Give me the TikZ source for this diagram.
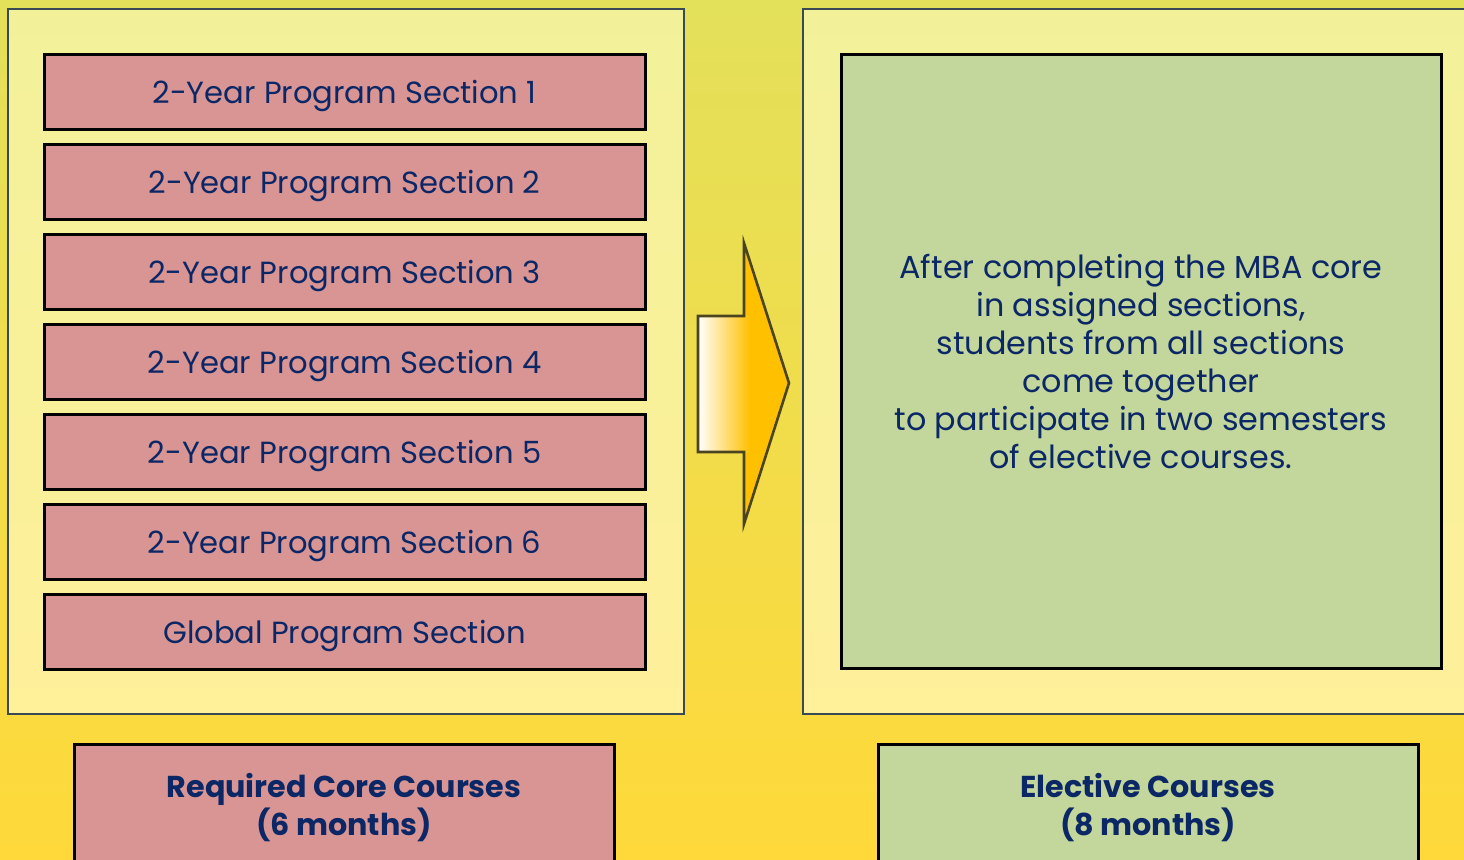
\documentclass[tikz,border=0pt]{standalone}
\usepackage{fontspec}
\setmainfont{Poppins}
\usetikzlibrary{shadings}
\definecolor{navy}{HTML}{0B2766}
\definecolor{pinkf}{HTML}{D99594}
\definecolor{greenf}{HTML}{C3D69B}
\definecolor{bgtop}{HTML}{E3E05A}
\definecolor{bgmid}{HTML}{FFFDC8}
\definecolor{bgbot}{HTML}{FFD93A}
\definecolor{paneltop}{HTML}{F2F19A}
\definecolor{panelmid}{HTML}{FEFDCB}
\definecolor{panelbot}{HTML}{FFF09A}
\definecolor{arrowc}{HTML}{FFC000}
\definecolor{edge}{HTML}{3A4A55}
\definecolor{arrowedge}{HTML}{4A4520}
\tikzset{
  panel/.style={draw=edge, line width=1.2pt},
  sect/.style={draw=black, line width=1.5pt, fill=pinkf, minimum width=300.5pt, minimum height=37.5pt, inner sep=0pt},
  secttext/.style={text=navy, font=\fontsize{15.3}{18}\selectfont, inner sep=0pt, yshift=-2pt},
  labelbox/.style={draw=black, line width=1.5pt, minimum width=270pt, minimum height=60pt, inner sep=0pt},
  labeltext/.style={text=navy, font=\bfseries\fontsize{15.1}{19}\selectfont, align=center},
}
\begin{document}
\begin{tikzpicture}[x=0.5pt,y=-0.5pt]
\useasboundingbox (0,0) rectangle (1464,859);
\clip (0,0) rectangle (1464,859);
\shade[top color=bgtop, middle color=bgmid, bottom color=bgbot] (0,0) rectangle (1464,859);
% panels
\shade[panel, top color=paneltop, middle color=panelmid, bottom color=panelbot] (8,9) rectangle (684,714);
\shade[panel, top color=paneltop, middle color=panelmid, bottom color=panelbot] (803,9) rectangle (1480,714);
% sections
\foreach \i/\t in {1/2-Year Program Section 1,2/2-Year Program Section 2,3/2-Year Program Section 3,4/2-Year Program Section 4,5/2-Year Program Section 5,6/2-Year Program Section 6,7/Global Program Section}{
  \node[sect] (s\i) at (344.5,{1.5+90*\i}) {};
  \node[secttext] (s\i t) at (s\i) {\t};
}
% green box
\node[draw=black, line width=1.5pt, fill=greenf, minimum width=300pt, minimum height=307pt, inner sep=0pt] (el) at (1141,361) {};
\node[text=navy, align=center, font=\fontsize{15.9}{19}\selectfont] (eltext) at (1141,361) {After completing the MBA core\\in assigned sections,\\students from all sections\\come together\\to participate in two semesters\\of elective courses.};
% arrow
\fill[arrowc] (698,316) -- (744,316) -- (744,243) -- (789,383) -- (744,524) -- (744,452) -- (698,452) -- cycle;
\shade[left color=white, right color=arrowc] (698,316) rectangle (750,452);
\draw[arrowedge, line width=1.3pt, line join=miter]
  (698,316) -- (744,316) -- (744,243) -- (789,383) -- (744,524) -- (744,452) -- (698,452) -- cycle;
% bottom labels
\node[labelbox, fill=pinkf, anchor=north] (req) at (344,743) {};
\node[labeltext] (reqt) at (344,808) {Required Core Courses\\(6 months)};
\node[labelbox, fill=greenf, anchor=north] (ele) at (1148,743) {};
\node[labeltext] (elet) at (1148,808) {Elective Courses\\(8 months)};
\end{tikzpicture}
\end{document}
